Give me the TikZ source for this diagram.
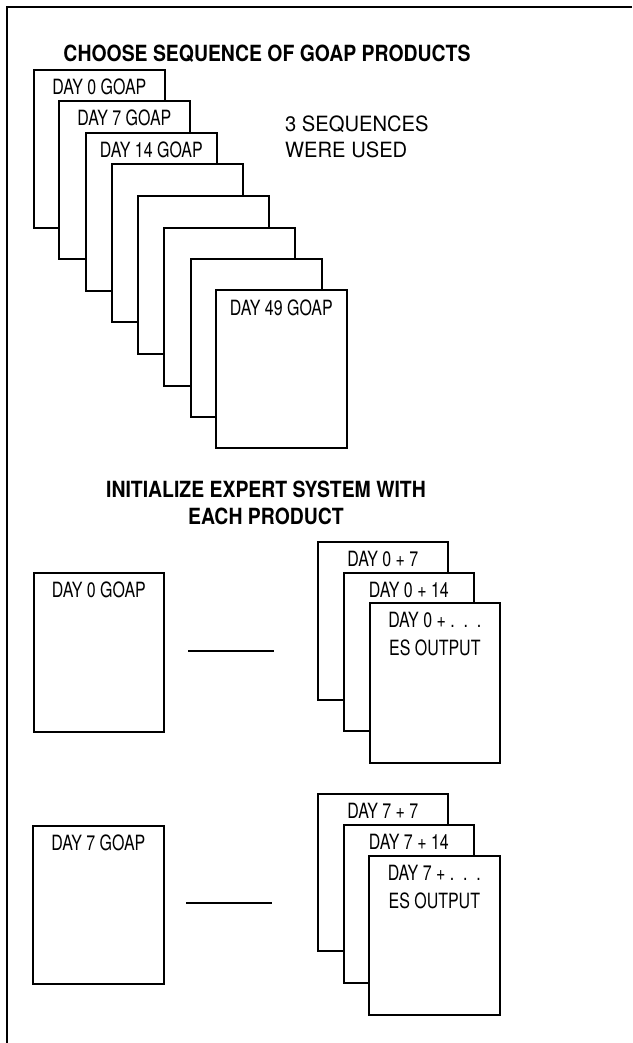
\documentclass[tikz,border=0pt]{standalone}
\usepackage{fontspec}
\newfontfamily\labfont[FakeStretch=0.76]{TeX Gyre Heros}
\newfontfamily\sidefont[FakeStretch=0.96]{TeX Gyre Heros}
\newfontfamily\titfont[FakeStretch=0.87]{TeX Gyre Heros}
\begin{document}
\begin{tikzpicture}[x=1pt,y=-1pt,
  pagebox/.style={draw, fill=white, line width=1.7pt, minimum width=131pt, minimum height=158pt, inner sep=0pt, anchor=north west},
  lbl/.style={inner sep=0pt, anchor=base, font=\labfont\fontsize{21}{26}\selectfont},
  ttl/.style={inner sep=0pt, anchor=base, font=\titfont\bfseries\fontsize{22.3}{27}\selectfont},
  side/.style={inner sep=0pt, anchor=base west, font=\sidefont\fontsize{21}{26}\selectfont},
  link/.style={line width=2.2pt}]
\useasboundingbox (0,0) rectangle (632,1043);
\draw[line width=2.3pt] (632,7) -- (7,7) -- (7,1043);

\node[ttl] (t1) at (267,62) {CHOOSE SEQUENCE OF GOAP PRODUCTS};

% top stack
\node[pagebox] (s1) at (33,69) {};
\node[lbl] (s1t) at ([yshift=-26pt]s1.north) {DAY 0 GOAP};
\node[pagebox] (s2) at (58,100) {};
\node[lbl] (s2t) at ([yshift=-26pt]s2.north) {DAY 7 GOAP};
\node[pagebox] (s3) at (85,132) {};
\node[lbl] (s3t) at ([yshift=-26pt]s3.north) {DAY 14 GOAP};
\node[pagebox] (s4) at (111,163) {};
\node[pagebox] (s5) at (137,195) {};
\node[pagebox] (s6) at (163,227) {};
\node[pagebox] (s7) at (190,258) {};
\node[pagebox] (s8) at (215,289) {};
\node[lbl] (s8t) at ([yshift=-26pt]s8.north) {DAY 49 GOAP};

\node[side] (n1) at (285,132) {3 SEQUENCES};
\node[side] (n2) at (285,158) {WERE USED};

\node[ttl] (t2) at (266,497) {INITIALIZE EXPERT SYSTEM WITH};
\node[ttl] (t3) at (266,524) {EACH PRODUCT};

% row 1
\node[pagebox, minimum width=130pt, minimum height=159pt] (l1) at (33,572) {};
\node[lbl] (l1t) at ([yshift=-25pt]l1.north) {DAY 0 GOAP};
\coordinate (a1) at (188,651);
\coordinate (b1) at (274,651);
\draw[link] (a1) -- (b1);
\node[pagebox, minimum width=130pt] (r1a) at (317,541) {};
\node[lbl] (r1at) at ([yshift=-25pt]r1a.north) {DAY 0 + 7};
\node[pagebox, minimum width=130pt] (r1b) at (343,572) {};
\node[lbl] (r1bt) at ([yshift=-25pt]r1b.north) {DAY 0 + 14};
\node[pagebox, minimum width=130pt, minimum height=160pt] (r1c) at (369,602) {};
\node[lbl] (r1ct) at ([yshift=-25pt]r1c.north) {DAY 0 + .\ \ .\ \ .};
\node[lbl] (r1cu) at ([yshift=-53pt]r1c.north) {ES OUTPUT};

% row 2
\node[pagebox, minimum width=131pt] (l2) at (32,825) {};
\node[lbl] (l2t) at ([yshift=-25pt]l2.north) {DAY 7 GOAP};
\coordinate (a2) at (186,903);
\coordinate (b2) at (272,903);
\draw[link] (a2) -- (b2);
\node[pagebox, minimum width=130pt, minimum height=157pt] (r2a) at (317,793) {};
\node[lbl] (r2at) at ([yshift=-25pt]r2a.north) {DAY 7 + 7};
\node[pagebox, minimum width=130pt] (r2b) at (343,824) {};
\node[lbl] (r2bt) at ([yshift=-25pt]r2b.north) {DAY 7 + 14};
\node[pagebox, minimum width=131pt, minimum height=159pt] (r2c) at (368,855) {};
\node[lbl] (r2ct) at ([yshift=-25pt]r2c.north) {DAY 7 + .\ \ .\ \ .};
\node[lbl] (r2cu) at ([yshift=-53pt]r2c.north) {ES OUTPUT};
\end{tikzpicture}
\end{document}
